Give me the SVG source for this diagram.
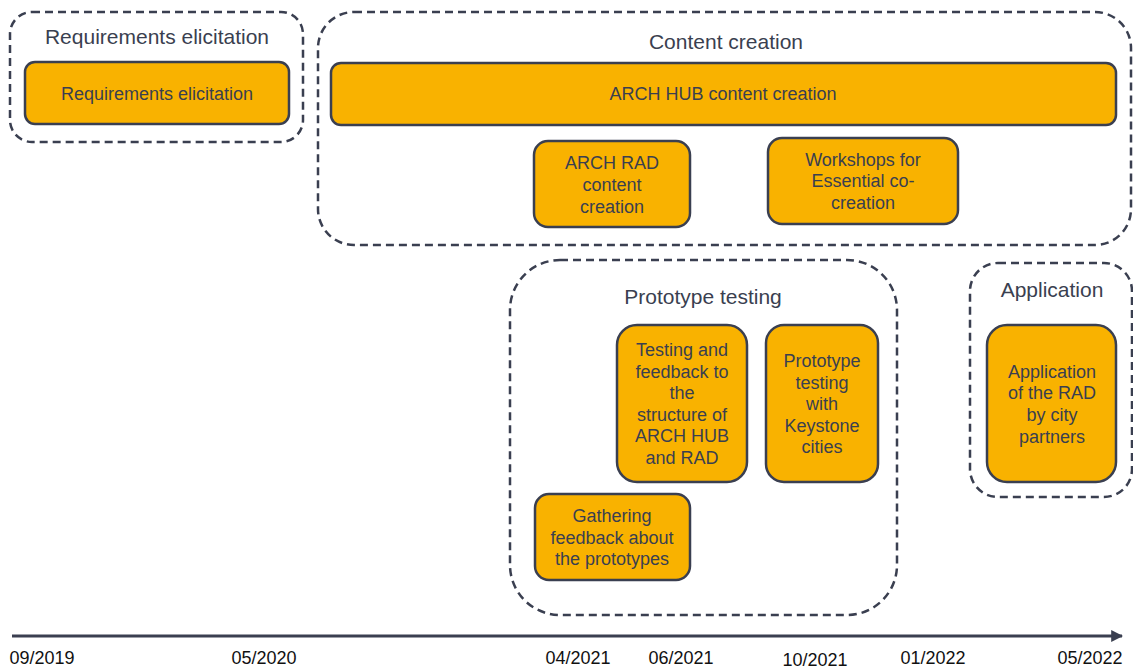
<svg xmlns="http://www.w3.org/2000/svg" width="1133" height="671" viewBox="0 0 1133 671">
<defs>
<style>
.grp{fill:none;stroke:#3a3f50;stroke-width:2.5;stroke-dasharray:8 5}
.box{fill:#F9B200;stroke:#3a3f50;stroke-width:2.5}
.t{font-family:"Liberation Sans",Arial,sans-serif;fill:#3a3f50;text-anchor:middle}
.title{font-size:21px}
.in{font-size:18px}
.lab{font-family:"Liberation Sans",Arial,sans-serif;font-size:18px;fill:#111;text-anchor:middle}
</style>
<marker id="arr" viewBox="0 0 10 10" refX="9" refY="5" markerWidth="4" markerHeight="4" orient="auto" markerUnits="strokeWidth">
<path d="M0,0 L10,5 L0,10 z" fill="#3a3f50"/>
</marker>
</defs>
<rect width="1133" height="671" fill="#fff"/>

<g id="group-requirements">
<rect class="grp" x="10" y="12" width="293" height="130" rx="22"/>
<text class="t title" x="157" y="44">Requirements elicitation</text>
</g>
<g id="node-requirements">
<rect class="box" x="25" y="62" width="264" height="62" rx="10"/>
<text class="t in" x="157" y="100">Requirements elicitation</text>
</g>

<g id="group-content">
<rect class="grp" x="318" y="12" width="813" height="233" rx="36"/>
<text class="t title" x="726" y="49">Content creation</text>
</g>
<g id="node-archhub">
<rect class="box" x="331" y="63" width="785" height="62" rx="10"/>
<text class="t in" x="723" y="100">ARCH HUB content creation</text>
</g>
<g id="node-archrad">
<rect class="box" x="534" y="141" width="156" height="86" rx="14"/>
<text class="t in" x="612" y="169">ARCH RAD</text>
<text class="t in" x="612" y="191">content</text>
<text class="t in" x="612" y="213">creation</text>
</g>
<g id="node-workshops">
<rect class="box" x="768" y="138" width="190" height="86" rx="14"/>
<text class="t in" x="863" y="166">Workshops for</text>
<text class="t in" x="863" y="187">Essential co-</text>
<text class="t in" x="863" y="209">creation</text>
</g>

<g id="group-prototype">
<rect class="grp" x="510" y="260" width="387" height="355" rx="50"/>
<text class="t title" x="703" y="304">Prototype testing</text>
</g>
<g id="node-testing">
<rect class="box" x="617" y="325" width="130" height="157" rx="20"/>
<text class="t in" x="682" y="356">Testing and</text>
<text class="t in" x="682" y="378">feedback to</text>
<text class="t in" x="682" y="399">the</text>
<text class="t in" x="682" y="421">structure of</text>
<text class="t in" x="682" y="442">ARCH HUB</text>
<text class="t in" x="682" y="464">and RAD</text>
</g>
<g id="node-keystone">
<rect class="box" x="766" y="325" width="112" height="157" rx="18"/>
<text class="t in" x="822" y="367">Prototype</text>
<text class="t in" x="822" y="389">testing</text>
<text class="t in" x="822" y="410">with</text>
<text class="t in" x="822" y="432">Keystone</text>
<text class="t in" x="822" y="453">cities</text>
</g>
<g id="node-gathering">
<rect class="box" x="535" y="494" width="155" height="86" rx="14"/>
<text class="t in" x="612" y="522">Gathering</text>
<text class="t in" x="612" y="544">feedback about</text>
<text class="t in" x="612" y="565">the prototypes</text>
</g>

<g id="group-application">
<rect class="grp" x="970" y="263" width="162" height="234" rx="28"/>
<text class="t title" x="1052" y="297">Application</text>
</g>
<g id="node-application">
<rect class="box" x="987" y="325" width="129" height="157" rx="20"/>
<text class="t in" x="1052" y="378">Application</text>
<text class="t in" x="1052" y="399">of the RAD</text>
<text class="t in" x="1052" y="421">by city</text>
<text class="t in" x="1052" y="443">partners</text>
</g>

<g id="connectors">
<line x1="12" y1="636" x2="1122" y2="636" stroke="#3a3f50" stroke-width="3" marker-end="url(#arr)"/>
</g>

<g id="timeline-labels">
<text class="lab" x="42" y="664">09/2019</text>
<text class="lab" x="264" y="664">05/2020</text>
<text class="lab" x="578" y="664">04/2021</text>
<text class="lab" x="681" y="664">06/2021</text>
<text class="lab" x="815" y="666">10/2021</text>
<text class="lab" x="933" y="664">01/2022</text>
<text class="lab" x="1090" y="664">05/2022</text>
</g>
</svg>
